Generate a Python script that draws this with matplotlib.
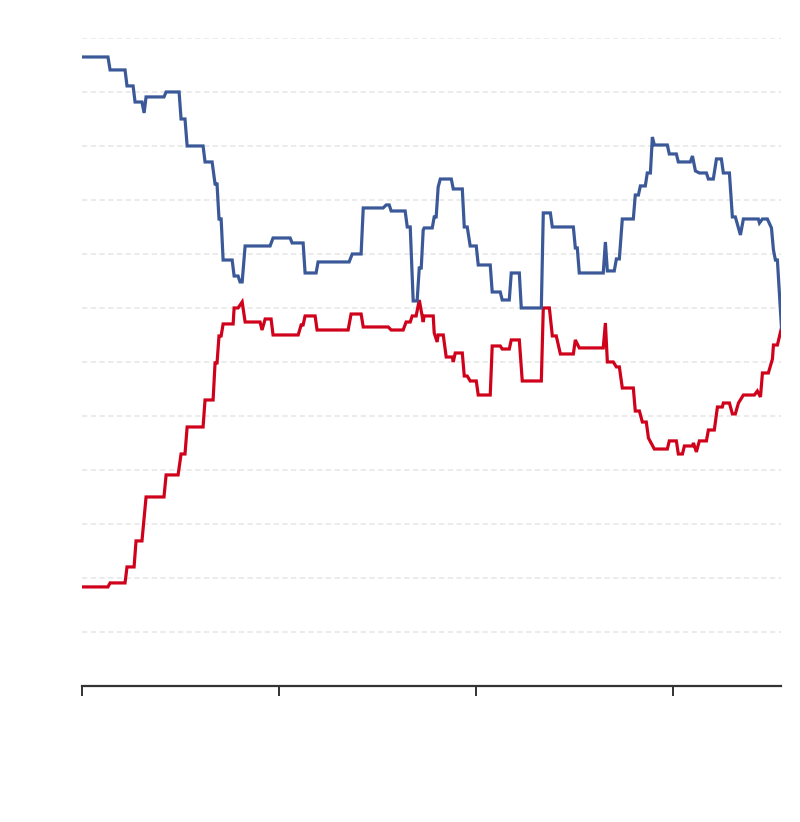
import matplotlib
matplotlib.use("Agg")
import matplotlib.pyplot as plt

# x in months from start, y in percent
blue_x = [0, 1.58, 1.71, 2.62, 2.74, 3.11, 3.23, 3.65, 3.78, 3.90, 4.99, 5.12, 5.91, 6.03, 6.27,
          6.40, 7.37, 7.49, 7.92, 8.10, 8.22, 8.34, 8.47, 8.59, 9.14, 9.26, 9.50, 9.62, 9.75, 9.93,
          11.45, 11.63, 12.67, 12.79, 13.46, 13.58, 14.25, 14.37, 16.26, 16.45, 16.99, 17.12, 18.33,
          18.52, 18.70, 18.82, 19.67, 19.80, 19.98, 20.16, 20.40, 20.53, 20.65, 20.77, 20.83, 21.32,
          21.44, 21.56, 21.68, 21.81, 22.48, 22.60, 23.15, 23.27, 23.45, 23.63, 24.00, 24.12, 24.85,
          24.97, 25.46, 25.58, 26.01, 26.13, 26.62, 26.74, 27.96, 28.08, 28.51, 28.63, 29.91, 30.03,
          30.15, 30.27, 31.73, 31.86, 31.98, 32.40, 32.53, 32.71, 32.89, 33.56, 33.68, 33.87, 33.99,
          34.29, 34.41, 34.60, 34.72, 34.84, 35.63, 35.75, 36.18, 36.30, 37.03, 37.16, 37.34, 37.58,
          38.01, 38.13, 38.43, 38.62, 38.92, 39.04, 39.41, 39.59, 39.77, 40.08, 40.26, 41.17, 41.24,
          41.42, 41.72, 41.97, 42.09, 42.21, 42.33, 42.58]
blue_y = [58.24, 58.24, 57.04, 57.04, 55.56, 55.56, 54.07, 54.07, 53.06, 54.54, 54.54, 55.00, 55.00,
          52.50, 52.50, 50.00, 50.00, 48.52, 48.52, 46.48, 46.48, 43.24, 43.24, 39.44, 39.44, 37.96,
          37.96, 37.41, 37.41, 40.74, 40.74, 41.48, 41.48, 41.02, 41.02, 38.24, 38.24, 39.26, 39.26,
          40.00, 40.00, 44.26, 44.26, 44.54, 44.54, 43.98, 43.98, 42.50, 42.50, 35.65, 35.65, 38.70,
          38.70, 42.22, 42.41, 42.41, 43.43, 43.43, 46.20, 46.94, 46.94, 46.02, 46.02, 42.50, 42.50,
          40.74, 40.74, 38.98, 38.98, 36.48, 36.48, 35.74, 35.74, 38.24, 38.24, 35.00, 35.00, 43.80,
          43.80, 42.50, 42.50, 40.56, 40.56, 38.24, 38.24, 41.11, 38.43, 38.43, 39.54, 39.54, 43.24,
          43.24, 45.46, 45.46, 46.30, 46.30, 47.50, 47.50, 50.83, 50.09, 50.09, 49.26, 49.26, 48.52,
          48.52, 49.07, 47.69, 47.50, 47.50, 46.94, 46.94, 48.80, 48.80, 47.50, 47.50, 43.43, 43.43,
          41.76, 43.24, 43.24, 42.87, 43.24, 43.24, 42.41, 40.37, 39.44, 39.44, 33.15]

red_x = [0, 1.58, 1.71, 2.62, 2.74, 3.17, 3.29, 3.65, 3.90, 4.99, 5.12, 5.85, 6.03, 6.27, 6.40,
         7.37, 7.49, 7.98, 8.10, 8.22, 8.34, 8.47, 8.59, 9.20, 9.26, 9.50, 9.75, 9.93, 10.84, 10.96,
         11.15, 11.51, 11.63, 13.16, 13.34, 13.46, 13.58, 14.19, 14.31, 16.20, 16.38, 16.99, 17.12,
         18.64, 18.82, 19.55, 19.73, 19.98, 20.10, 20.34, 20.53, 20.77, 20.83, 21.38, 21.44, 21.62,
         21.68, 21.99, 22.17, 22.54, 22.60, 22.72, 23.15, 23.27, 23.45, 23.63, 24.00, 24.12, 24.85,
         24.97, 25.46, 25.58, 26.01, 26.13, 26.62, 26.80, 27.96, 28.08, 28.45, 28.63, 28.87, 29.12,
         29.91, 30.03, 30.27, 31.73, 31.86, 31.98, 32.34, 32.53, 32.71, 32.89, 33.56, 33.68, 33.93,
         34.11, 34.35, 34.48, 34.84, 35.63, 35.75, 36.18, 36.30, 36.55, 36.67, 37.16, 37.22, 37.40,
         37.58, 38.01, 38.13, 38.49, 38.68, 38.98, 39.04, 39.41, 39.59, 39.77, 39.96, 40.26, 40.93,
         41.11, 41.30, 41.42, 41.78, 42.03, 42.09, 42.33, 42.58]
red_y = [9.17, 9.17, 9.54, 9.54, 11.02, 11.02, 13.43, 13.43, 17.50, 17.50, 19.54, 19.54, 21.48,
         21.48, 23.98, 23.98, 26.48, 26.48, 29.91, 29.91, 32.41, 32.41, 33.52, 33.52, 35.00, 35.00,
         35.56, 33.70, 33.70, 32.96, 33.98, 33.98, 32.50, 32.50, 33.43, 33.43, 34.26, 34.26, 32.96,
         32.96, 34.44, 34.44, 33.24, 33.24, 32.96, 32.96, 33.70, 33.70, 34.26, 34.26, 35.74, 33.70,
         34.26, 34.26, 32.69, 31.85, 32.50, 32.50, 30.46, 30.46, 30.00, 30.83, 30.83, 28.70, 28.70,
         28.24, 28.24, 26.94, 26.94, 31.48, 31.48, 31.20, 31.20, 32.04, 32.04, 28.24, 28.24, 35.00,
         35.00, 32.41, 32.41, 30.74, 30.74, 32.04, 31.30, 31.30, 33.61, 30.00, 30.00, 29.54, 29.54,
         27.59, 27.59, 25.46, 25.46, 24.44, 24.44, 22.96, 21.94, 21.94, 22.69, 22.69, 21.48, 21.48,
         22.22, 22.22, 22.50, 21.67, 22.69, 22.69, 23.70, 23.70, 25.83, 25.83, 26.20, 26.20, 25.19,
         25.19, 26.20, 26.94, 26.94, 27.31, 26.76, 28.98, 28.98, 30.28, 31.57, 31.57, 33.15]

x_ticks = [0, 12, 24, 36]
y_grid = [5, 10, 15, 20, 25, 30, 35, 40, 45, 50, 55, 60]

fig = plt.figure(figsize=(8, 8.22), dpi=100)
ax = fig.add_axes([0.1025, 0.1655, 0.87375, 0.7883])

# light dashed horizontal grid
for g in y_grid:
    ax.axhline(g, color='#e6e6e6', linewidth=1.1, linestyle=(0, (3.5, 2.2)), zorder=0)

ax.plot(blue_x, blue_y, color='#3b5998', linewidth=2.3, solid_joinstyle='miter', zorder=3)
ax.plot(red_x, red_y, color='#d0021b', linewidth=2.3, solid_joinstyle='miter', zorder=2)

ax.set_xlim(0, 42.55)
ax.set_ylim(0, 60)

for side in ['top', 'right', 'left']:
    ax.spines[side].set_visible(False)
ax.spines['bottom'].set_color('#333333')
ax.spines['bottom'].set_linewidth(1.6)

ax.set_xticks(x_ticks)
ax.set_xticklabels([])
ax.tick_params(axis='x', length=7.5, width=1.4, color='#333333', direction='out')
ax.set_yticks([])

fig.savefig('out.png', dpi=100)
